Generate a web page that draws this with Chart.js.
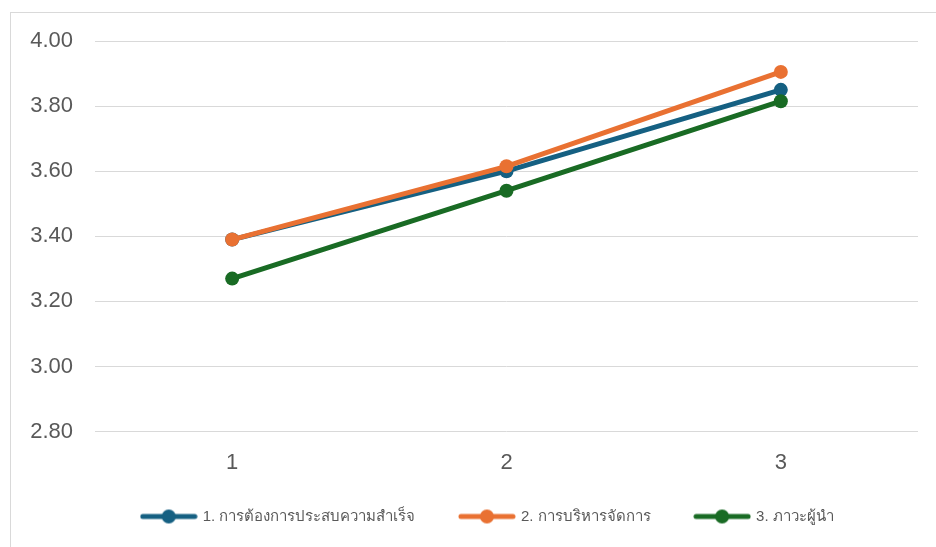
<!DOCTYPE html>
<html>
<head>
<meta charset="utf-8">
<script src="https://cdn.jsdelivr.net/npm/chart.js@4"></script>
<style>
    body { margin: 0; background: #fff; }
    #frame { position: absolute; left: 10px; top: 12px; width: 960px; height: 560px; border: 1px solid #d9d9d9; }
    #wrap { position: absolute; left: 0; top: 0; width: 936px; height: 547px; }
</style>
</head>
<body>
<div id="frame"></div>
<div id="wrap"><canvas id="myChart"></canvas></div>
<script>
// categories and series
const labels = ['1', '2', '3'];
const seriesNames = ['1. การต้องการประสบความสำเร็จ', '2. การบริหารจัดการ', '3. ภาวะผู้นำ'];
const achievement = [3.39, 3.60, 3.85];
const management = [3.39, 3.615, 3.905];
const leadership = [3.27, 3.54, 3.815];
const colors = ['#156082', '#E97132', '#196B24'];

// little line+dot marker for the legend (like Excel)
function legendMarker(color) {
    const c = document.createElement('canvas');
    c.width = 58;
    c.height = 16;
    const ctx = c.getContext('2d');
    ctx.strokeStyle = color;
    ctx.lineWidth = 5;
    ctx.lineCap = 'round';
    ctx.beginPath();
    ctx.moveTo(3, 8);
    ctx.lineTo(55, 8);
    ctx.stroke();
    ctx.fillStyle = color;
    ctx.beginPath();
    ctx.arc(29, 8, 7, 0, Math.PI * 2);
    ctx.fill();
    return c;
}

function makeDataset(i, data, order) {
    return {
        label: seriesNames[i],
        data: data,
        borderColor: colors[i],
        backgroundColor: colors[i],
        borderWidth: 5,
        pointRadius: 7,
        pointHoverRadius: 7,
        pointBorderWidth: 0,
        tension: 0,
        fill: false,
        order: order
    };
}

// legend padding is big for the gaps between items,
// so take some height back and move the row where excel has it
const legendNudge = {
    id: 'legendNudge',
    beforeLayout: function(chart) {
        const lg = chart.legend;
        if (lg && !lg._shrunk) {
            const fit = lg.fit;
            lg.fit = function() {
                fit.call(this);
                this.height -= 9;
            };
            lg._shrunk = true;
        }
    },
    afterLayout: function(chart) {
        const lg = chart.legend;
        if (!lg) return;
        lg.top -= 22;
        lg.bottom -= 22;
        lg.left += 29;
        lg.right += 29;
    }
};

const chartData = {
    labels: labels,
    datasets: [
        makeDataset(0, achievement, 3),
        makeDataset(1, management, 2),
        makeDataset(2, leadership, 1)
    ]
};

const config = {
    type: 'line',
    data: chartData,
    plugins: [legendNudge],
    options: {
        responsive: true,
        maintainAspectRatio: false,
        animation: false,
        events: [],
        layout: {
            padding: { left: 0, right: 18, top: 41, bottom: 0 }
        },
        plugins: {
            legend: {
                position: 'bottom',
                labels: {
                    font: { size: 15, family: "'Liberation Sans', 'Noto Sans', sans-serif" },
                    color: '#595959',
                    usePointStyle: true,
                    pointStyleWidth: 53,
                    padding: 45,
                    generateLabels: function(chart) {
                        return chart.data.datasets.map(function(ds, i) {
                            return {
                                text: ds.label,
                                pointStyle: legendMarker(colors[i]),
                                fillStyle: colors[i],
                                strokeStyle: colors[i],
                                lineWidth: 0,
                                fontColor: '#595959',
                                datasetIndex: i,
                                hidden: false
                            };
                        });
                    }
                }
            },
            tooltip: { enabled: false }
        },
        scales: {
            x: {
                offset: true,
                grid: { display: false },
                border: { display: false },
                ticks: {
                    color: '#595959',
                    padding: 10,
                    font: { size: 22, family: "'Liberation Sans', sans-serif" }
                }
            },
            y: {
                min: 2.8,
                max: 4.0,
                grid: { color: '#d9d9d9', lineWidth: 1, drawTicks: false },
                border: { display: false },
                afterFit: function(scale) { scale.width = 95; },
                ticks: {
                    stepSize: 0.2,
                    color: '#595959',
                    padding: 22,
                    font: { size: 22, family: "'Liberation Sans', sans-serif" },
                    callback: function(value) { return value.toFixed(2); }
                }
            }
        }
    }
};

const myChart = new Chart(document.getElementById('myChart'), config);
</script>
</body>
</html>
